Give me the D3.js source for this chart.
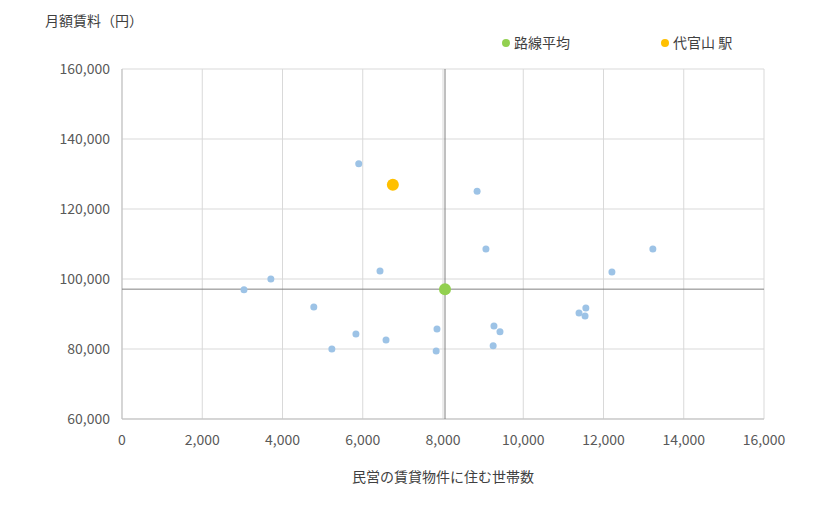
<!DOCTYPE html><html><head><meta charset="utf-8"><script src="https://cdn.jsdelivr.net/npm/d3@7"></script>
<style>body{margin:0;background:#fff}text{font-family:"Noto Sans CJK JP","Noto Sans",sans-serif}</style></head><body><svg id="c" width="820" height="510"></svg><script>
const otherX=[5900,8850,9070,13230,12210,6430,3710,3040,4780,11560,11390,11540,9270,9420,7850,5830,6580,9250,5230,7830];
const otherY=[132900,125100,108600,108600,102000,102300,100000,96900,92000,91700,90300,89400,86600,84900,85700,84300,82600,80900,80000,79400];
const avg=[8050,97100];
const station=[6750,126900];
const xTicks=[0,2000,4000,6000,8000,10000,12000,14000,16000];
const yTicks=[60000,80000,100000,120000,140000,160000];
const svg=d3.select("#c");
const x=d3.scaleLinear().domain([0,16000]).range([122,764]);
const y=d3.scaleLinear().domain([60000,160000]).range([419,69]);
const fmt=d3.format(",");
svg.append("g").selectAll("line").data(xTicks).join("line").attr("x1",d=>x(d)).attr("x2",d=>x(d)).attr("y1",69).attr("y2",419).attr("stroke","#d9d9d9");
svg.append("g").selectAll("line").data(yTicks).join("line").attr("x1",122).attr("x2",764).attr("y1",d=>y(d)).attr("y2",d=>y(d)).attr("stroke","#d9d9d9");
svg.append("line").attr("x1",122).attr("x2",122).attr("y1",69).attr("y2",419).attr("stroke","#bfbfbf");
svg.append("line").attr("x1",122).attr("x2",764).attr("y1",419).attr("y2",419).attr("stroke","#bfbfbf");
svg.append("g").selectAll("text").data(xTicks).join("text").attr("x",d=>x(d)).attr("y",445).attr("text-anchor","middle").attr("font-size",14).attr("fill","#595959").text(fmt);
svg.append("g").selectAll("text").data(yTicks).join("text").attr("x",110).attr("y",d=>y(d)+5).attr("text-anchor","end").attr("font-size",14).attr("fill","#595959").text(fmt);
svg.append("line").attr("x1",x(avg[0])).attr("x2",x(avg[0])).attr("y1",69).attr("y2",419).attr("stroke","#808080");
svg.append("line").attr("x1",122).attr("x2",764).attr("y1",y(avg[1])).attr("y2",y(avg[1])).attr("stroke","#808080");
svg.append("g").selectAll("circle").data(otherX.map((v,i)=>[v,otherY[i]])).join("circle").attr("cx",d=>x(d[0])).attr("cy",d=>y(d[1])).attr("r",3.5).attr("fill","#9dc3e6");
svg.append("circle").attr("cx",x(avg[0])).attr("cy",y(avg[1])).attr("r",6).attr("fill","#92d050");
svg.append("circle").attr("cx",x(station[0])).attr("cy",y(station[1])).attr("r",6).attr("fill","#ffc000");
svg.append("text").attr("x",45).attr("y",26).attr("font-size",14).attr("fill","#404040").text("月額賃料（円）");
svg.append("text").attr("x",443).attr("y",482).attr("text-anchor","middle").attr("font-size",14).attr("fill","#404040").text("民営の賃貸物件に住む世帯数");
svg.append("circle").attr("cx",506).attr("cy",43).attr("r",4).attr("fill","#92d050");
svg.append("text").attr("x",514).attr("y",48).attr("font-size",14).attr("fill","#404040").text("路線平均");
svg.append("circle").attr("cx",665).attr("cy",43).attr("r",4).attr("fill","#ffc000");
svg.append("text").attr("x",673).attr("y",48).attr("font-size",14).attr("fill","#404040").text("代官山 駅");
</script></body></html>
